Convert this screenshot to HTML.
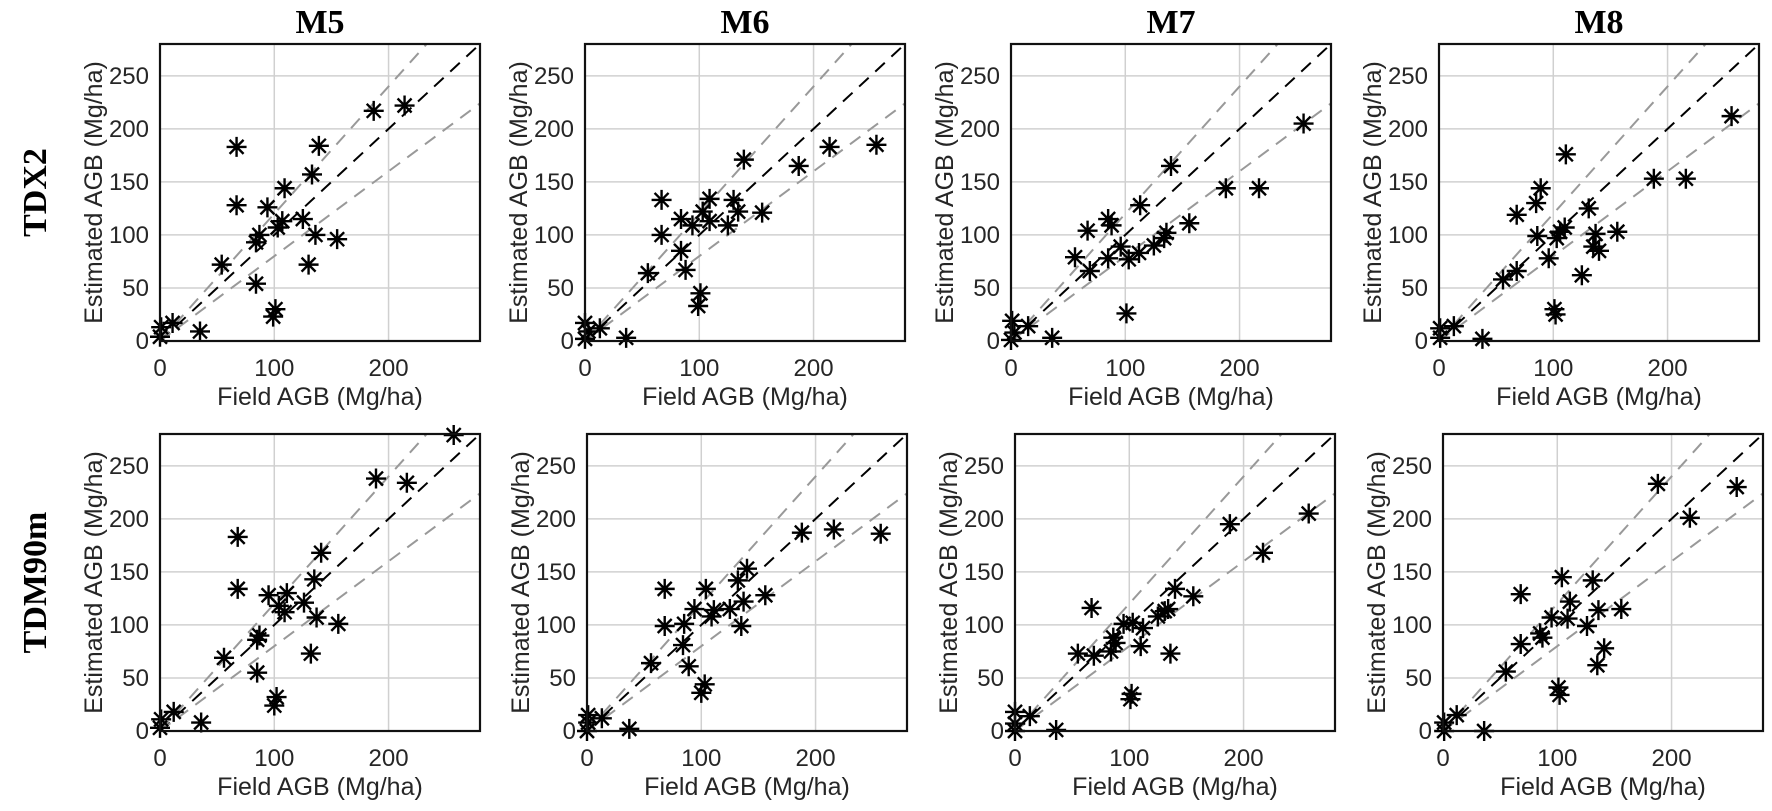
<!DOCTYPE html>
<html><head><meta charset="utf-8"><style>
html,body{margin:0;padding:0;background:#fff;}
svg{display:block;}
</style></head><body>
<svg id="fig" width="1772" height="811" viewBox="0 0 1772 811" xmlns="http://www.w3.org/2000/svg"></svg>
<script>
// ---- data (Field AGB vs Estimated AGB, Mg/ha) ----
const panelTitles = ["M5","M6","M7","M8"];
const rowTitles = ["TDX2","TDM90m"];
const tickValuesX = [0,100,200];
const tickValuesY = [0,50,100,150,200,250];
const refSlopes = [1, 1.2, 0.8];

const tdxM5X = [67,67,139,133,109,94,187,214,125,107,103,87,84,136,155,130,54,84,101,99,35,11,1,0];
const tdxM5Y = [183,128,184,157,144,126,217,222,115,113,107,100,93,100,96,72,72,54,30,23,9,17,13,4];
const tdxM6X = [139,187,214,255,67,109,130,103,134,84,94,109,125,155,67,84,88,55,101,99,36,13,0,3,0];
const tdxM6Y = [171,165,183,185,133,134,133,122,122,115,109,113,109,121,100,85,67,64,45,33,3,12,17,9,2];
const tdxM7X = [140,188,217,256,113,85,88,67,156,136,134,125,96,112,85,103,56,69,101,36,15,1,3,0];
const tdxM7Y = [165,144,144,205,128,115,109,104,111,102,97,90,89,83,78,77,79,66,26,3,14,19,8,1];
const tdxM8X = [111,89,85,68,131,188,216,256,110,106,103,86,137,156,135,140,96,68,56,125,101,102,38,13,1,1];
const tdxM8Y = [176,144,130,119,125,153,153,212,107,103,97,99,101,103,89,85,78,66,58,62,30,25,2,14,12,3];
const tdmM5X = [257,189,216,68,141,135,68,95,111,104,109,126,137,156,87,85,56,132,85,102,100,36,12,1,0];
const tdmM5Y = [279,238,234,183,168,143,134,128,130,118,112,121,107,101,90,86,69,73,55,32,24,8,18,11,3];
const tdmM6X = [188,216,257,140,132,68,104,137,156,94,111,125,109,68,85,135,84,89,56,103,100,37,13,1,1,0];
const tdmM6Y = [187,190,186,153,142,134,134,122,128,115,114,115,108,99,101,99,81,61,64,44,36,2,12,15,8,0];
const tdmM7X = [188,257,217,140,156,134,131,125,67,95,103,112,86,88,84,110,55,69,136,102,101,36,13,0,0,0];
const tdmM7Y = [195,205,168,134,127,115,113,108,116,101,102,97,88,83,75,80,73,71,73,35,30,1,14,18,7,0];
const tdmM8X = [188,257,216,104,131,68,111,136,156,95,109,126,85,87,68,141,135,55,101,102,36,12,1,1];
const tdmM8Y = [233,230,201,145,142,129,122,114,115,107,106,99,92,88,82,78,62,56,41,34,0,15,8,0];

const panels = [
  {row:0,col:0,x:tdxM5X,y:tdxM5Y,left:160,top:44},
  {row:0,col:1,x:tdxM6X,y:tdxM6Y,left:585,top:44},
  {row:0,col:2,x:tdxM7X,y:tdxM7Y,left:1011,top:44},
  {row:0,col:3,x:tdxM8X,y:tdxM8Y,left:1439,top:44},
  {row:1,col:0,x:tdmM5X,y:tdmM5Y,left:160,top:434},
  {row:1,col:1,x:tdmM6X,y:tdmM6Y,left:587,top:434},
  {row:1,col:2,x:tdmM7X,y:tdmM7Y,left:1015,top:434},
  {row:1,col:3,x:tdmM8X,y:tdmM8Y,left:1443,top:434}
];
const PW = 320, PH = 297, MAXV = 280;
const NS = "http://www.w3.org/2000/svg";
const svg = document.getElementById("fig");
function mk(tag, attrs, parent){
  const e = document.createElementNS(NS, tag);
  for (const k in attrs) e.setAttribute(k, attrs[k]);
  (parent||svg).appendChild(e);
  return e;
}
const SANS = '"Liberation Sans", Arial, sans-serif';
const SERIF = '"Liberation Serif", "Times New Roman", serif';

panelTitles.forEach((t,i)=>{
  const cx = panels[i].left + PW/2;
  const e = mk("text",{x:cx,y:33,"text-anchor":"middle","font-family":SERIF,"font-weight":"bold","font-size":"34",fill:"#000"});
  e.textContent = t;
  
  
});
rowTitles.forEach((t,i)=>{
  const cy = (i===0?44:434) + PH/2;
  const e = mk("text",{x:0,y:0,transform:`translate(46,${cy}) rotate(-90)`,"text-anchor":"middle","font-family":SERIF,"font-weight":"bold","font-size":"34",fill:"#000"});
  e.textContent = t;
  
  
});

panels.forEach((p,pi)=>{
  const g = mk("g",{});
  
  
  const sx = v => p.left + v/MAXV*PW;
  const sy = v => p.top + PH - v/MAXV*PH;
  const bottom = p.top + PH, right = p.left + PW;
  tickValuesX.forEach(v=>{
    const l = mk("line",{x1:sx(v),x2:sx(v),y1:p.top,y2:bottom,stroke:"#d0d0d0","stroke-width":1.5},g);
    
    
    const t = mk("text",{x:sx(v),y:bottom+35,"text-anchor":"middle","font-family":SANS,"font-size":"24",fill:"#262626"},g);
    t.textContent = v;
    
    
  });
  tickValuesY.forEach(v=>{
    const l = mk("line",{x1:p.left,x2:right,y1:sy(v),y2:sy(v),stroke:"#d0d0d0","stroke-width":1.5},g);
    
    
    const t = mk("text",{x:p.left-11,y:sy(v)+8,"text-anchor":"end","font-family":SANS,"font-size":"24",fill:"#262626"},g);
    t.textContent = v;
    
    
  });
  refSlopes.forEach((s,si)=>{
    const xEnd = Math.min(MAXV, MAXV/s);
    const l = mk("line",{x1:sx(0),y1:sy(0),x2:sx(xEnd),y2:sy(xEnd*s),
      stroke: si===0?"#000":"#999","stroke-width":2,"stroke-dasharray":"13,9"},g);
    
    
  });
  p.x.forEach((xv,i)=>{
    const cx = sx(xv), cy = sy(p.y[i]), r = 10, d = 7;
    const m = mk("path",{d:`M${cx-r},${cy}H${cx+r}M${cx},${cy-r}V${cy+r}M${cx-d},${cy-d}L${cx+d},${cy+d}M${cx-d},${cy+d}L${cx+d},${cy-d}`,
      stroke:"#000","stroke-width":2.4,fill:"none"},g);
    
    
  });
  const b = mk("rect",{x:p.left,y:p.top,width:PW,height:PH,fill:"none",stroke:"#111","stroke-width":2.2},g);
  
  
  const xl = mk("text",{x:p.left+PW/2,y:bottom+64,"text-anchor":"middle","font-family":SANS,"font-size":"25",fill:"#262626"},g);
  xl.textContent = "Field AGB (Mg/ha)";
  
  
  const yl = mk("text",{x:0,y:0,transform:`translate(${p.left-58},${p.top+PH/2}) rotate(-90)`,"text-anchor":"middle","font-family":SANS,"font-size":"25",fill:"#262626"},g);
  yl.textContent = "Estimated AGB (Mg/ha)";
  
  
});
</script>
</body></html>
